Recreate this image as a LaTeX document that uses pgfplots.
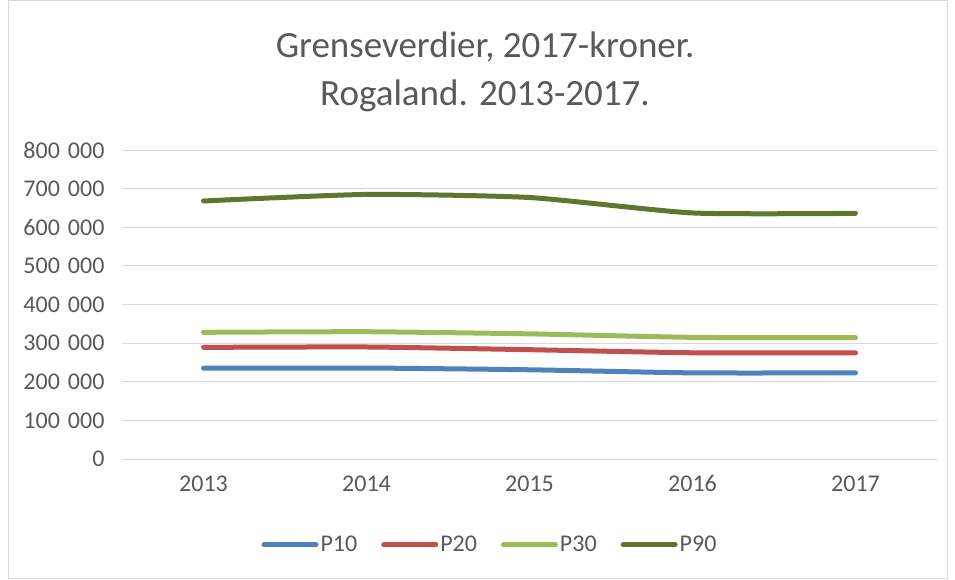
\documentclass[border=0pt]{standalone}
\usepackage{pgfplots}
\pgfplotsset{compat=1.18}
\usepackage{fontspec}
\setmainfont{Carlito}
\definecolor{txt}{HTML}{595959}
\definecolor{gridc}{HTML}{D9D9D9}
\definecolor{cP10}{HTML}{4F81BD}
\definecolor{cP20}{HTML}{C0504D}
\definecolor{cP30}{HTML}{9BBB59}
\definecolor{cP90}{HTML}{5F7530}
\begin{document}
\begin{tikzpicture}[x=1pt,y=1pt]
\useasboundingbox (0,0) rectangle (955,579);
\draw[gridc, line width=1pt] (8,1) rectangle (947,578);
\begin{axis}[
  at={(122pt,120pt)}, anchor=south west,
  scale only axis, width=815pt, height=309pt,
  xmin=-0.5, xmax=4.5, ymin=0, ymax=800000,
  xtick={0,1,2,3,4}, xticklabels={2013,2014,2015,2016,2017},
  ytick={0,100000,200000,300000,400000,500000,600000,700000,800000},
  yticklabels={0,100\,\,000,200\,\,000,300\,\,000,400\,\,000,500\,\,000,600\,\,000,700\,\,000,800\,\,000},
  scaled y ticks=false,
  ymajorgrids, grid style={gridc, line width=1pt},
  axis line style={draw=none},
  major tick length=0pt,
  tick label style={font=\fontsize{24}{28}\selectfont, text=txt},
  yticklabel style={xshift=-14pt},
  xticklabel style={yshift=-12pt, text height=17pt, text depth=0pt},
  legend columns=4,
  legend style={at={(0.4515,-0.278)}, anchor=center, draw=none, fill=none,
    font=\fontsize{24}{28}\selectfont, text=txt,
    /tikz/every even column/.append style={column sep=22pt}},
  legend image code/.code={\draw[#1, line cap=round] (0pt,0pt) -- (52pt,0pt);},
  every axis plot/.append style={line width=5pt, line cap=round, line join=round, smooth, tension=0.35},
]
\draw[gridc, line width=1pt] (axis cs:-0.5,0) -- (axis cs:4.5,0);
\addplot[cP10] coordinates {(0,235000) (1,235500) (2,231000) (3,223000) (4,223000)};
\addlegendentry{P10}
\addplot[cP20] coordinates {(0,289000) (1,290000) (2,283000) (3,275000) (4,275000)};
\addlegendentry{P20}
\addplot[cP30] coordinates {(0,328000) (1,329500) (2,324000) (3,315000) (4,314000)};
\addlegendentry{P30}
\addplot[cP90] coordinates {(0,668000) (1,685000) (2,677000) (3,637000) (4,636000)};
\addlegendentry{P90}
\end{axis}
\node[text=txt, font=\fontsize{37}{48}\selectfont, align=center] at (485,507) {Grenseverdier, 2017-kroner.\\Rogaland. 2013-2017.};
\end{tikzpicture}
\end{document}
